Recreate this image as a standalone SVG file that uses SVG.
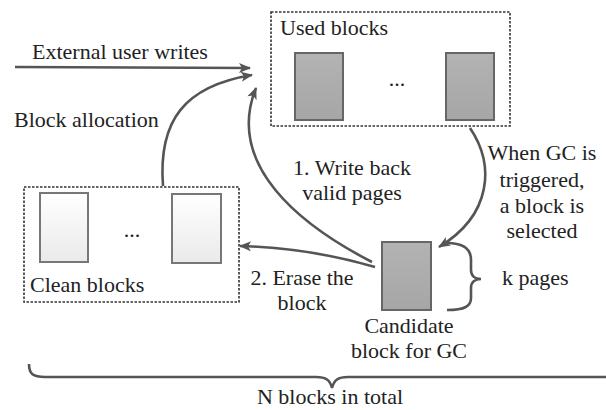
<svg xmlns="http://www.w3.org/2000/svg" width="606" height="410" viewBox="0 0 606 410" font-family="'Liberation Serif', 'DejaVu Serif', serif" font-size="22">
<defs>
<linearGradient id="gray" x1="0" y1="0" x2="0" y2="1"><stop offset="0" stop-color="#b3b3b3"/><stop offset="1" stop-color="#a6a6a6"/></linearGradient>
<linearGradient id="white" x1="0" y1="0" x2="0" y2="1"><stop offset="0" stop-color="#ffffff"/><stop offset="1" stop-color="#eaeaea"/></linearGradient>
<marker id="ah" viewBox="0 0 12 10" refX="11" refY="5" markerWidth="13" markerHeight="10" markerUnits="userSpaceOnUse" orient="auto"><path d="M0,0 L12,5 L0,10 L3,5 z" fill="#555"/></marker>
<style>
text{font-family:'Liberation Serif','DejaVu Serif',serif;font-size:22px;fill:#222}
.box{fill:none;stroke:#333;stroke-width:1.6;stroke-dasharray:2.5 1.5}
.gb{fill:url(#gray);stroke:#666;stroke-width:2}
.wb{fill:url(#white);stroke:#777;stroke-width:2}
.arr{fill:none;stroke:#555;stroke-width:2.6;marker-end:url(#ah)}
.br{fill:none;stroke:#555;stroke-width:2.6}
.c{text-anchor:middle}
</style>
</defs>
<g id="used-blocks">
<rect class="box" x="271" y="12" width="239" height="114"/>
<text x="280" y="35">Used blocks</text>
<rect class="gb" x="295" y="53" width="48" height="67"/>
<text class="c" x="397" y="86">...</text>
<rect class="gb" x="446" y="53" width="48" height="67"/>
</g>
<g id="clean-blocks">
<rect class="box" x="24" y="187" width="215" height="115"/>
<rect class="wb" x="40" y="193" width="48" height="69"/>
<text class="c" x="132" y="237">...</text>
<rect class="wb" x="172" y="194" width="49" height="69"/>
<text x="30" y="292">Clean blocks</text>
</g>
<g id="candidate-block">
<rect class="gb" x="382" y="242" width="49" height="68"/>
<text class="c" x="409" y="333">Candidate</text>
<text class="c" x="409" y="358">block for GC</text>
</g>
<g id="connectors">
<path class="arr" d="M15 67 L250 68"/>
<path class="arr" d="M163 186 C158 120 185 86 252 75"/>
<path class="arr" d="M372 262 C300 225 225 165 256 88"/>
<path class="arr" d="M375 267 Q310 248 240 246"/>
<path class="arr" d="M470 128 C495 165 492 215 439 247"/>
</g>
<g id="labels">
<text x="32" y="59">External user writes</text>
<text x="14" y="127">Block allocation</text>
<text class="c" x="352" y="175">1. Write back</text>
<text class="c" x="352" y="200">valid pages</text>
<text class="c" x="302" y="285">2. Erase the</text>
<text class="c" x="302" y="310">block</text>
<text class="c" x="542" y="160">When GC is</text>
<text class="c" x="542" y="187">triggered,</text>
<text class="c" x="542" y="213">a block is</text>
<text class="c" x="542" y="238">selected</text>
</g>
<g id="k-pages">
<path class="br" d="M447 243 C465 243 471 250 471 260 L471 270 C471 276 475 279 481 279 C475 279 471 282 471 288 L471 298 C471 306 465 310 447 310"/>
<text x="502" y="285">k pages</text>
</g>
<g id="n-blocks">
<path class="br" d="M29 364 C29 374 33 377 45 377 L316 377 C326 377 330 380 332 388 C334 380 338 377 348 377 L610 377"/>
<text class="c" x="330" y="404">N blocks in total</text>
</g>
</svg>
